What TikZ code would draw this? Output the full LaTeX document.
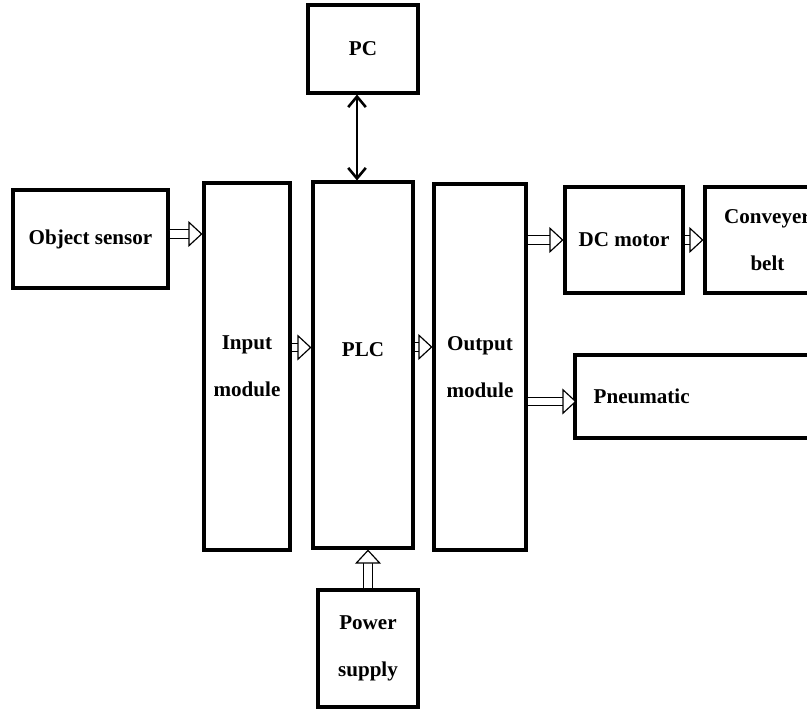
\documentclass[tikz,border=0pt]{standalone}
\usepackage{fontspec}
\setmainfont{Liberation Serif}
\usetikzlibrary{positioning,arrows.meta,calc}

\begin{document}
\begin{tikzpicture}[x=0.03cm, y=-0.03cm,
  block/.style={draw, line width=2.6pt, align=center, inner sep=0pt,
    font=\bfseries\fontsize{18}{40}\selectfont},
  hollow/.style={double, double distance=6.5pt, line width=1pt,
    -{Triangle[length=12pt, width=22pt, fill=white, line width=1pt]}},
  link/.style={line width=2.2pt,
    {Straight Barb[length=9pt,width=15pt]}-{Straight Barb[length=9pt,width=15pt]}}]
\fill[white] (0,0) rectangle (807,710);
\clip (0,0) rectangle (807,710);

% Controller stack
\node[block, minimum width=2.58cm, minimum height=11.01cm] (input) at (247,366.5) {Input\\module};
\node[block, minimum width=3cm, minimum height=10.98cm,
  label={[font=\bfseries\fontsize{18}{40}\selectfont, yshift=0.45cm]center:PLC}] (plc) at (363,365) {};
\node[block, minimum width=2.76cm, minimum height=10.98cm] (output) at (480,367) {Output\\module};

% Periphery
\node[block, minimum width=4.65cm, minimum height=2.94cm] (sensor) at (90.5,239) {Object sensor};
\node[block, minimum width=3.3cm, minimum height=2.64cm] (pc) at (363,49) {PC};
\node[block, minimum width=3cm, minimum height=3.51cm] (power) at (368,648.5) {Power\\supply};
\node[block, minimum width=3.54cm, minimum height=3.18cm] (motor) at (624,240) {DC motor};
\node[block, minimum width=3.75cm, minimum height=3.18cm] (belt) at (767.5,240) {Conveyer\\belt};
\node[block, minimum width=11.22cm, minimum height=2.49cm, text width=10.1cm, align=left,
  inner xsep=0.56cm] (pneu) at (762,396.5) {Pneumatic};

% Signal flow
\draw[hollow] ($(sensor.east)+(0,-5)$) -- ($(sensor.east -| input.west)+(0,-5)$);
\draw[hollow] ($(input.east)+(0,-19)$) -- ($(input.east -| plc.west)+(0,-19)$);
\draw[hollow] ($(plc.east)+(0,-18)$) -- ($(plc.east -| output.west)+(0,-18)$);
\draw[hollow] (motor.west -| output.east) -- (motor.west);
\draw[hollow] (motor.east) -- (belt.west);
\draw[hollow] ($(pneu.west -| output.east)+(0,5)$) -- ($(pneu.west)+(3,5)$);
\draw[hollow] (power.north) -- (power.north |- plc.south);
\draw[link] ($(pc.south)+(-6,0)$) -- ($(pc.south |- plc.north)+(-6,0)$);
\end{tikzpicture}
\end{document}
